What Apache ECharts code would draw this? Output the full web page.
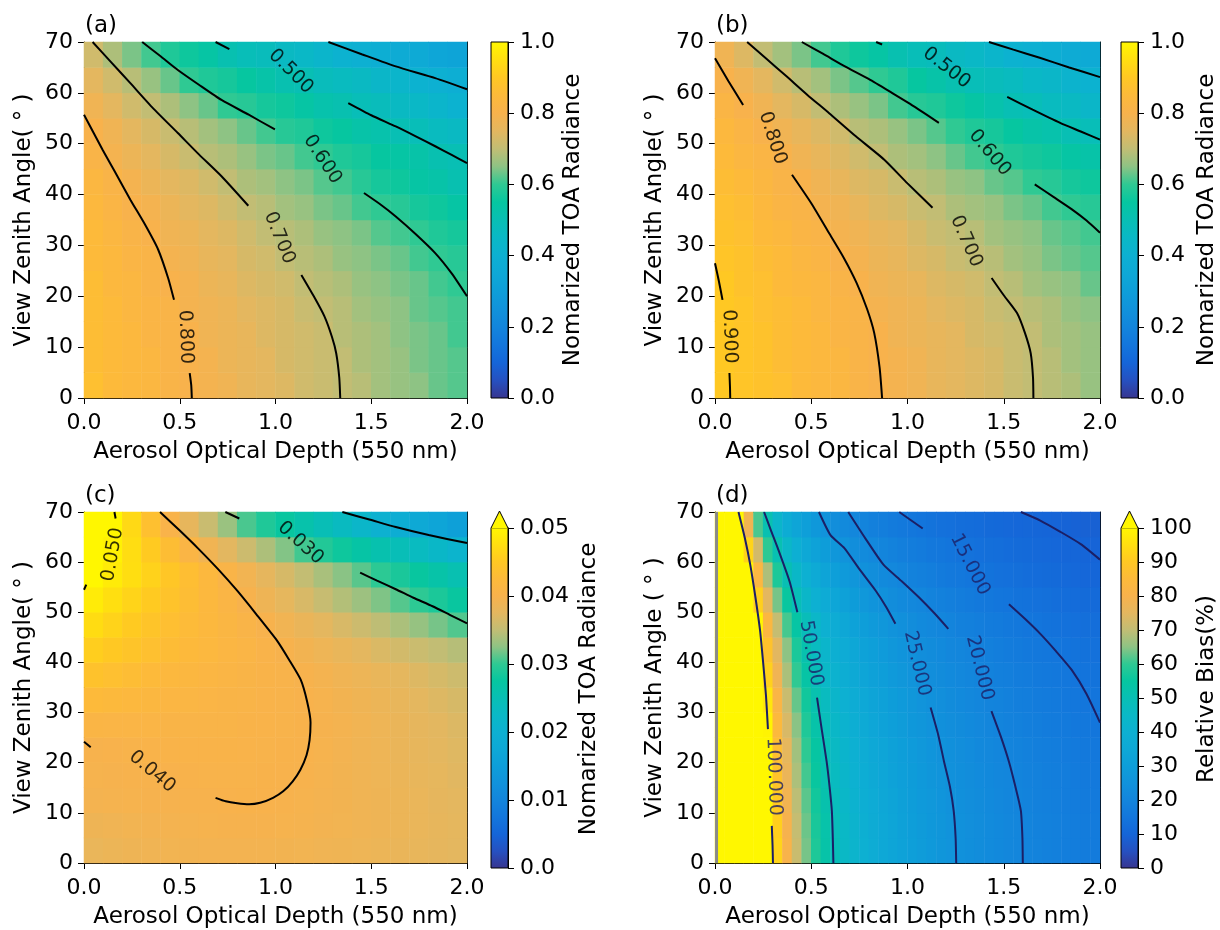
<!DOCTYPE html>
<html><head><meta charset="utf-8">
<script src="https://cdn.jsdelivr.net/npm/echarts@6/dist/echarts.min.js"></script>
<style>html,body{margin:0;padding:0;background:#fff}#c{width:1220px;height:930px}</style>
</head><body><div id="c"></div>
<script>
// ---------- grid cell centres (x: AOD, y: VZA) ----------
const aodCenters = [0.05,0.15,0.25,0.35,0.45,0.55,0.65,0.75,0.85,0.95,1.05,1.15,1.25,1.35,1.45,1.55,1.65,1.75,1.85,1.95];
const aodFine = [0.025,0.075,0.125,0.175,0.225,0.275,0.325,0.375,0.425,0.475,0.525,0.575,0.625,0.675,0.725,0.775,0.825,0.875,0.925,0.975,
                 1.025,1.075,1.125,1.175,1.225,1.275,1.325,1.375,1.425,1.475,1.525,1.575,1.625,1.675,1.725,1.775,1.825,1.875,1.925,1.975];
const vzaCenters = [2.5,7.5,12.5,17.5,22.5,27.5,32.5,37.5,42.5,47.5,52.5,57.5,62.5,67.5];

// ---------- (a) normalized TOA radiance, rows bottom->top ----------
const radA = [
 [0.87,0.85,0.84,0.83,0.81,0.80,0.79,0.78,0.76,0.75,0.74,0.72,0.71,0.70,0.69,0.67,0.66,0.65,0.63,0.62],
 [0.86,0.85,0.84,0.83,0.81,0.80,0.79,0.77,0.76,0.75,0.73,0.72,0.71,0.70,0.68,0.67,0.66,0.64,0.63,0.62],
 [0.86,0.85,0.84,0.82,0.81,0.80,0.78,0.77,0.76,0.74,0.73,0.72,0.71,0.69,0.68,0.67,0.65,0.64,0.63,0.61],
 [0.86,0.85,0.83,0.82,0.81,0.79,0.78,0.77,0.75,0.74,0.73,0.71,0.70,0.69,0.67,0.66,0.65,0.63,0.62,0.61],
 [0.86,0.84,0.83,0.81,0.80,0.79,0.77,0.76,0.74,0.73,0.72,0.70,0.69,0.68,0.66,0.65,0.64,0.63,0.61,0.60],
 [0.85,0.84,0.82,0.81,0.79,0.78,0.76,0.75,0.73,0.72,0.70,0.69,0.68,0.66,0.65,0.64,0.63,0.61,0.60,0.59],
 [0.85,0.83,0.81,0.80,0.78,0.77,0.75,0.74,0.72,0.70,0.69,0.68,0.66,0.65,0.64,0.62,0.61,0.60,0.58,0.57],
 [0.84,0.82,0.80,0.79,0.77,0.75,0.74,0.72,0.70,0.69,0.67,0.66,0.64,0.63,0.61,0.60,0.59,0.57,0.56,0.54],
 [0.83,0.81,0.79,0.77,0.75,0.74,0.72,0.70,0.68,0.67,0.65,0.64,0.62,0.61,0.59,0.57,0.56,0.54,0.53,0.51],
 [0.81,0.79,0.77,0.75,0.73,0.71,0.69,0.68,0.66,0.64,0.63,0.61,0.60,0.58,0.57,0.55,0.54,0.53,0.51,0.50],
 [0.80,0.78,0.75,0.73,0.71,0.69,0.67,0.65,0.63,0.61,0.59,0.58,0.56,0.55,0.53,0.52,0.50,0.49,0.47,0.46],
 [0.78,0.75,0.72,0.70,0.68,0.65,0.63,0.60,0.59,0.57,0.56,0.54,0.52,0.51,0.49,0.48,0.46,0.45,0.43,0.41],
 [0.75,0.72,0.69,0.66,0.63,0.60,0.58,0.57,0.55,0.53,0.51,0.50,0.48,0.47,0.46,0.44,0.43,0.41,0.40,0.39],
 [0.72,0.68,0.64,0.61,0.58,0.56,0.54,0.51,0.49,0.48,0.46,0.45,0.43,0.41,0.40,0.39,0.37,0.36,0.34,0.33]
];
// ---------- (b) ----------
const radB = [
 [0.90,0.89,0.88,0.87,0.85,0.84,0.83,0.81,0.80,0.79,0.78,0.76,0.75,0.74,0.73,0.71,0.70,0.69,0.68,0.66],
 [0.90,0.89,0.88,0.86,0.85,0.84,0.83,0.81,0.80,0.79,0.78,0.76,0.75,0.74,0.73,0.71,0.70,0.69,0.67,0.66],
 [0.90,0.89,0.88,0.86,0.85,0.84,0.82,0.81,0.80,0.78,0.77,0.76,0.75,0.73,0.72,0.71,0.70,0.68,0.67,0.66],
 [0.90,0.89,0.87,0.86,0.85,0.83,0.82,0.81,0.79,0.78,0.77,0.75,0.74,0.73,0.71,0.70,0.69,0.68,0.66,0.65],
 [0.90,0.88,0.87,0.85,0.84,0.83,0.81,0.80,0.78,0.77,0.76,0.74,0.73,0.72,0.70,0.69,0.67,0.66,0.65,0.63],
 [0.89,0.88,0.86,0.85,0.83,0.82,0.80,0.79,0.77,0.76,0.74,0.73,0.71,0.70,0.69,0.67,0.66,0.64,0.63,0.62],
 [0.88,0.87,0.85,0.84,0.82,0.81,0.79,0.78,0.76,0.75,0.73,0.71,0.70,0.69,0.67,0.66,0.65,0.63,0.62,0.61],
 [0.87,0.86,0.84,0.82,0.81,0.79,0.78,0.76,0.74,0.73,0.71,0.70,0.68,0.67,0.66,0.64,0.63,0.61,0.60,0.59],
 [0.86,0.85,0.83,0.81,0.80,0.78,0.76,0.74,0.73,0.71,0.69,0.68,0.66,0.65,0.63,0.62,0.60,0.59,0.57,0.56],
 [0.85,0.83,0.82,0.80,0.78,0.76,0.74,0.72,0.70,0.68,0.67,0.65,0.63,0.61,0.60,0.58,0.57,0.56,0.54,0.53],
 [0.84,0.82,0.80,0.78,0.76,0.74,0.72,0.69,0.68,0.66,0.64,0.62,0.60,0.58,0.57,0.55,0.53,0.52,0.50,0.49],
 [0.82,0.80,0.78,0.75,0.73,0.70,0.68,0.66,0.64,0.61,0.59,0.58,0.56,0.54,0.52,0.50,0.49,0.47,0.46,0.44],
 [0.80,0.78,0.75,0.72,0.69,0.67,0.64,0.62,0.60,0.58,0.55,0.53,0.51,0.49,0.48,0.47,0.45,0.44,0.42,0.41],
 [0.78,0.74,0.70,0.67,0.64,0.61,0.58,0.56,0.54,0.51,0.49,0.48,0.46,0.45,0.43,0.41,0.40,0.39,0.37,0.36]
];
// ---------- (c) ----------
const radC = [
 [0.0382,0.0385,0.0388,0.0390,0.0392,0.0393,0.0394,0.0394,0.0394,0.0394,0.0393,0.0392,0.0390,0.0389,0.0387,0.0385,0.0383,0.0380,0.0378,0.0375],
 [0.0388,0.0390,0.0392,0.0394,0.0395,0.0396,0.0397,0.0398,0.0398,0.0398,0.0397,0.0396,0.0394,0.0392,0.0390,0.0388,0.0385,0.0382,0.0379,0.0376],
 [0.0395,0.0396,0.0397,0.0398,0.0398,0.0399,0.0399,0.0400,0.0401,0.0400,0.0399,0.0397,0.0395,0.0393,0.0390,0.0388,0.0385,0.0382,0.0378,0.0375],
 [0.0397,0.0398,0.0399,0.0399,0.0400,0.0401,0.0402,0.0402,0.0402,0.0401,0.0400,0.0399,0.0396,0.0393,0.0390,0.0387,0.0384,0.0380,0.0377,0.0373],
 [0.0399,0.0400,0.0402,0.0403,0.0404,0.0404,0.0404,0.0404,0.0403,0.0402,0.0401,0.0400,0.0397,0.0394,0.0390,0.0387,0.0383,0.0379,0.0375,0.0371],
 [0.0410,0.0409,0.0408,0.0408,0.0407,0.0406,0.0405,0.0405,0.0404,0.0403,0.0402,0.0401,0.0398,0.0395,0.0391,0.0387,0.0383,0.0378,0.0374,0.0369],
 [0.0425,0.0422,0.0419,0.0416,0.0413,0.0411,0.0409,0.0407,0.0405,0.0403,0.0402,0.0400,0.0397,0.0393,0.0389,0.0385,0.0380,0.0375,0.0370,0.0365],
 [0.0440,0.0435,0.0430,0.0425,0.0420,0.0416,0.0413,0.0410,0.0407,0.0404,0.0402,0.0399,0.0395,0.0390,0.0386,0.0381,0.0376,0.0370,0.0364,0.0358],
 [0.0457,0.0450,0.0443,0.0436,0.0429,0.0423,0.0418,0.0413,0.0408,0.0403,0.0399,0.0393,0.0387,0.0381,0.0375,0.0368,0.0362,0.0356,0.0350,0.0344],
 [0.0472,0.0462,0.0452,0.0443,0.0434,0.0426,0.0419,0.0412,0.0405,0.0399,0.0391,0.0383,0.0375,0.0366,0.0357,0.0348,0.0339,0.0329,0.0319,0.0309],
 [0.0487,0.0475,0.0463,0.0452,0.0441,0.0430,0.0420,0.0410,0.0399,0.0388,0.0377,0.0366,0.0354,0.0343,0.0332,0.0321,0.0310,0.0299,0.0288,0.0277],
 [0.0502,0.0488,0.0474,0.0461,0.0447,0.0433,0.0419,0.0406,0.0392,0.0378,0.0365,0.0351,0.0338,0.0324,0.0311,0.0298,0.0287,0.0276,0.0265,0.0254],
 [0.0512,0.0494,0.0473,0.0452,0.0431,0.0410,0.0391,0.0374,0.0357,0.0340,0.0322,0.0305,0.0292,0.0280,0.0269,0.0257,0.0246,0.0234,0.0223,0.0211],
 [0.0524,0.0501,0.0468,0.0436,0.0403,0.0379,0.0355,0.0331,0.0307,0.0290,0.0276,0.0261,0.0247,0.0233,0.0219,0.0204,0.0191,0.0179,0.0167,0.0155]
];
// ---------- (d) relative bias (%), 40 columns ----------
const biasD = [
 [1186,396,238,171,133,109.1,92.6,80.4,71.1,63.8,57.9,53.0,48.9,45.3,42.3,39.7,37.4,35.3,33.5,31.9,30.4,29.0,27.8,26.7,25.7,24.7,23.8,23.0,22.3,21.6,20.9,20.3,19.7,19.2,18.7,18.2,17.7,17.3,16.9,16.5],
 [1170,391,235,169,131,107.9,91.5,79.6,70.4,63.2,57.3,52.5,48.4,44.9,42.0,39.4,37.1,35.1,33.3,31.7,30.2,28.9,27.7,26.6,25.5,24.6,23.7,22.9,22.2,21.5,20.8,20.2,19.7,19.1,18.6,18.2,17.7,17.3,16.9,16.5],
 [1154,386,232,166,129.6,106.4,90.3,78.5,69.4,62.3,56.5,51.7,47.7,44.3,41.4,38.8,36.6,34.6,32.8,31.2,29.7,28.4,27.3,26.2,25.2,24.2,23.4,22.6,21.9,21.2,20.5,19.9,19.4,18.8,18.3,17.9,17.4,17.0,16.6,16.2],
 [1126,376,227,162,126.7,104.0,88.3,76.7,67.9,61.0,55.3,50.7,46.8,43.4,40.6,38.0,35.9,33.9,32.2,30.6,29.2,27.9,26.8,25.7,24.7,23.8,23.0,22.2,21.5,20.9,20.2,19.6,19.1,18.6,18.1,17.6,17.2,16.8,16.4,16.0],
 [1110,371,223,160,124.7,102.3,86.8,75.5,66.8,59.9,54.4,49.8,45.9,42.6,39.8,37.3,35.2,33.3,31.5,30.0,28.6,27.4,26.2,25.2,24.2,23.3,22.5,21.7,21.0,20.4,19.8,19.2,18.6,18.1,17.7,17.2,16.8,16.4,16.0,15.6],
 [1078,360,217,155,121.0,99.3,84.3,73.2,64.8,58.1,52.7,48.3,44.5,41.3,38.6,36.2,34.1,32.2,30.6,29.1,27.7,26.5,25.4,24.4,23.5,22.6,21.8,21.1,20.4,19.7,19.1,18.6,18.1,17.6,17.1,16.7,16.2,15.8,15.5,15.1],
 [1046,350,210,151,117.5,96.4,81.8,71.1,62.9,56.4,51.2,46.9,43.3,40.2,37.5,35.2,33.1,31.3,29.7,28.3,27.0,25.8,24.7,23.7,22.8,22.0,21.2,20.5,19.8,19.2,18.6,18.1,17.6,17.1,16.6,16.2,15.8,15.4,15.1,14.7],
 [994,332,200,143,111.8,91.8,77.9,67.7,60.0,53.8,48.8,44.7,41.3,38.3,35.8,33.6,31.7,29.9,28.4,27.0,25.8,24.7,23.6,22.7,21.8,21.1,20.3,19.6,19.0,18.4,17.9,17.3,16.9,16.4,16.0,15.6,15.2,14.8,14.5,14.2],
 [954,319,192,137.5,107.3,88.0,74.7,65.0,57.5,51.6,46.8,42.9,39.6,36.7,34.3,32.2,30.3,28.7,27.2,25.9,24.7,23.6,22.7,21.8,20.9,20.2,19.5,18.8,18.2,17.6,17.1,16.6,16.1,15.7,15.3,14.9,14.5,14.2,13.9,13.6],
 [901,301,181,129.8,101.2,83.0,70.4,61.2,54.1,48.6,44.1,40.3,37.2,34.5,32.2,30.2,28.5,26.9,25.5,24.3,23.2,22.1,21.2,20.3,19.6,18.8,18.2,17.6,17.0,16.5,16.0,15.5,15.0,14.6,14.2,13.9,13.5,13.2,12.9,12.6],
 [813,272,164,117.3,91.5,75.1,63.8,55.4,49.1,44.0,40.0,36.6,33.8,31.4,29.3,27.5,25.9,24.5,23.2,22.1,21.1,20.2,19.3,18.6,17.9,17.2,16.6,16.1,15.5,15.1,14.6,14.2,13.8,13.4,13.1,12.7,12.4,12.1,11.8,11.6],
 [737,246,148,106.2,82.9,68.0,57.7,50.2,44.4,39.8,36.2,33.1,30.5,28.4,26.5,24.8,23.4,22.1,21.0,20.0,19.1,18.2,17.5,16.8,16.1,15.5,15.0,14.5,14.0,13.6,13.2,12.8,12.4,12.1,11.8,11.5,11.2,10.9,10.7,10.4],
 [638,214,129,92.6,72.4,59.5,50.6,44.1,39.1,35.2,32.0,29.4,27.1,25.3,23.6,22.2,21.0,19.9,18.9,18.0,17.2,16.5,15.8,15.2,14.7,14.2,13.7,13.3,12.9,12.5,12.1,11.8,11.5,11.2,10.9,10.7,10.4,10.2,10.0,9.8],
 [534,180,108.7,78.3,61.4,50.7,43.2,37.8,33.6,30.3,27.6,25.4,23.6,22.0,20.6,19.5,18.4,17.5,16.7,15.9,15.3,14.7,14.1,13.6,13.2,12.7,12.3,12.0,11.6,11.3,11.0,10.7,10.5,10.2,10.0,9.8,9.6,9.4,9.2,9.0]
];
// masked (grey) first column in (d)
const maskD = [[0.008,0],[0.008,70]];

// ---------- contour lines [AOD, VZA], split where labels sit ----------
const contA = [
 [[0,55.7],[0.097,48.8],[0.17,43.9],[0.242,39],[0.32,34],[0.387,29.2],[0.44,23.5],[0.47,19.3]],
 [[0.552,4.9],[0.56,2.5],[0.563,0]],
 [[0.045,70],[0.14,66.1],[0.242,61.9],[0.36,57],[0.49,52.1],[0.6,47.9],[0.718,43.6],[0.858,37.8]],
 [[1.135,24.2],[1.2,20],[1.255,16.1],[1.295,12],[1.317,8.8],[1.333,4],[1.338,0]],
 [[0.304,70],[0.4,67.2],[0.49,64.5],[0.6,61.6],[0.718,58.6],[0.86,55.7],[0.997,52.8]],
 [[1.462,40.3],[1.55,38],[1.628,35.7],[1.73,32.3],[1.834,28.5],[1.92,24.5],[2.0,20]],
 [[0.687,70],[0.759,68.6]],
 [[1.38,58],[1.5,55.6],[1.628,53.4],[1.73,51.5],[1.834,49.5],[1.92,47.8],[2.0,46.2]],
 [[1.276,70],[1.45,67.6],[1.628,65.2],[1.834,62.9],[2.0,60.7]]
];
const contB = [
 [[0,26.5],[0.02,23],[0.039,19.3]],
 [[0.075,4.9],[0.078,2],[0.079,0]],
 [[0,66.8],[0.07,62.3],[0.146,57.6]],
 [[0.4,43.9],[0.5,38.3],[0.593,32.4],[0.67,27.5],[0.736,22.6],[0.79,17.5],[0.827,12.8],[0.855,6],[0.868,0]],
 [[0.167,70],[0.27,66.6],[0.37,63.3],[0.48,59.6],[0.593,56],[0.73,51.5],[0.878,46.9],[1.0,42.2],[1.13,37.4]],
 [[1.437,23.6],[1.5,20.2],[1.569,16.7],[1.61,12.8],[1.64,8.8],[1.652,4],[1.654,0]],
 [[0.451,70],[0.56,67.7],[0.675,65.2],[0.8,62.7],[0.919,60],[1.04,57.2],[1.163,54.1]],
 [[1.661,42],[1.76,39.5],[1.854,37.1],[1.93,34.9],[2.0,32.5]],
 [[0.837,70],[0.868,69.5]],
 [[1.518,59.2],[1.65,56.7],[1.793,54.1],[1.9,52.4],[2.0,50.8]],
 [[1.423,70],[1.55,68.5],[1.687,66.9],[1.84,65],[2.0,63.1]]
];
const contC = [
 [[0.159,70],[0.165,68.7]],
 [[0,54.5],[0.012,55.5]],
 [[0.397,70],[0.5,66.3],[0.594,62.8],[0.7,58.6],[0.8,54.3],[0.9,49.6],[1.007,44.4],[1.07,40.6],[1.131,36.6],[1.165,32.2],[1.183,28],[1.178,24.5],[1.162,21.5],[1.13,18.6],[1.09,16.3],[1.04,14.3],[0.987,13],[0.92,12],[0.862,11.7],[0.8,11.9],[0.74,12.3],[0.687,13]],
 [[0,24.2],[0.035,23.1]],
 [[0.738,70],[0.811,68.7]],
 [[1.442,57.9],[1.53,56.3],[1.628,54.6],[1.72,52.9],[1.82,51.2],[1.91,49.5],[2.0,47.8]],
 [[1.349,70],[1.49,68.5],[1.628,67],[1.8,65.4],[2.0,63.8]]
];
const contD = [
 [[0.122,70],[0.155,64.8],[0.183,59.5],[0.21,53],[0.234,46.4],[0.25,40],[0.265,33.3],[0.275,26.7]],
 [[0.295,7.4],[0.299,3.5],[0.301,0]],
 [[0.255,70],[0.29,66.4],[0.326,62.8],[0.387,56.2],[0.428,50]],
 [[0.53,33],[0.555,26.5],[0.58,20.2],[0.595,15.3],[0.607,10.4],[0.612,5],[0.615,0]],
 [[0.54,70],[0.6,65.4],[0.672,62.8],[0.75,58.6],[0.835,54.3],[0.89,51],[0.937,47.7]],
 [[1.12,31],[1.16,25.5],[1.19,20.2],[1.22,15.3],[1.24,10.4],[1.25,5],[1.253,0]],
 [[0.692,70],[0.78,64.8],[0.875,59.5],[0.97,56.2],[1.059,53],[1.14,49.8],[1.212,46.7]],
 [[1.436,30.3],[1.485,25.2],[1.527,20.2],[1.56,15.3],[1.589,10.4],[1.597,5],[1.599,0]],
 [[0.957,70],[1.079,66.7]],
 [[1.527,51.6],[1.61,48.7],[1.69,45.7],[1.77,42.3],[1.853,38.5],[1.93,33.7],[2.0,28]],
 [[1.589,70],[1.69,68.3],[1.792,66.1],[1.9,63.6],[2.0,60.5]]
];
// contour labels: text and [AOD, VZA]
const labTextA = ['0.800','0.700','0.600','0.500'];
const labPosA = [[0.53,12],[1.02,31.5],[1.245,46.9],[1.08,64.2]];
const labTextB = ['0.900','0.800','0.700','0.600','0.500'];
const labPosB = [[0.075,12.1],[0.299,51.1],[1.305,30.8],[1.427,48.2],[1.203,64.9]];
const labTextC = ['0.050','0.040','0.030'];
const labPosC = [[0.15,61.5],[0.356,18.2],[1.131,63.8]];
const labTextD = ['100.000','50.000','25.000','20.000','15.000'];
const labPosD = [[0.305,17.2],[0.499,41.8],[1.049,39.8],[1.375,38.9],[1.324,59.5]];

// ---------- styling / layout ----------
const labRotA = [-88,-68,-57,-45];
const labRotB = [-88,-72,-66,-50,-38];
const labRotC = [80,-40,-42];
const labRotD = [-88,-80,-77,-76,-63];
const CMAP = ['#38358f','#2650c0','#1565d8','#1376dc','#1385dc','#1192db','#0e9ed9','#0ea8d6','#0db0d2','#0ab8c6',
              '#08bfb4','#06c6a0','#2fc993','#8ec384','#c2bd74','#e4b75f','#f8b24c','#fdba3a','#ffc823','#ffdf10','#fff700'];
const FONT = 'DejaVu Sans';
const TICK_FS = 22, TITLE_FS = 23;

const panels = [
 {tag:'(a)', data:radA, xc:aodCenters, cont:contA, labT:labTextA, labP:labPosA, labR:labRotA, vmin:0, vmax:1, lc:'#000',
  yName:'View Zenith Angle( ° )', cbName:'Nomarized TOA Radiance', g:{left:84,top:42,width:383,height:356},
  cb:{left:491,top:42,width:17,height:356}, cbInt:0.2, cbFmt:v=>v.toFixed(1), ext:false, cbGap:54},
 {tag:'(b)', data:radB, xc:aodCenters, cont:contB, labT:labTextB, labP:labPosB, labR:labRotB, vmin:0, vmax:1, lc:'#000',
  yName:'View Zenith Angle( ° )', cbName:'Nomarized TOA Radiance', g:{left:715,top:42,width:385,height:356},
  cb:{left:1121,top:42,width:17,height:356}, cbInt:0.2, cbFmt:v=>v.toFixed(1), ext:false, cbGap:58},
 {tag:'(c)', data:radC, xc:aodCenters, cont:contC, labT:labTextC, labP:labPosC, labR:labRotC, vmin:0, vmax:0.05, lc:'#000',
  yName:'View Zenith Angle( ° )', cbName:'Nomarized TOA Radiance', g:{left:84,top:512,width:383,height:356},
  cb:{left:491,top:528,width:17,height:340}, cbInt:0.01, cbFmt:v=>(v===0?'0.0':v.toFixed(2)), ext:true, cbGap:70},
 {tag:'(d)', data:biasD, xc:aodFine, cont:contD, labT:labTextD, labP:labPosD, labR:labRotD, vmin:0, vmax:100, lc:'#1b1f66',
  yName:'View Zenith Angle ( ° )', cbName:'Relative Bias(%)', g:{left:715,top:512,width:385,height:356},
  cb:{left:1121,top:528,width:17,height:340}, cbInt:10, cbFmt:v=>String(v), ext:true, cbGap:58}
];

const grids=[], xAxes=[], yAxes=[], series=[], visualMaps=[], titles=[], graphics=[];
const axisBlack = {show:true, onZero:false, lineStyle:{color:'#000', width:1}};
const tickBlack = {show:true, inside:false, length:6, lineStyle:{color:'#000', width:1}};

panels.forEach((p,k)=>{
  grids.push(Object.assign({containLabel:false}, p.g));
  xAxes.push({type:'category', gridIndex:k, position:'top', data:p.xc.map(String),
    axisLine:axisBlack, axisTick:{show:false}, axisLabel:{show:false}, splitLine:{show:false}});
  xAxes.push({type:'value', gridIndex:k, position:'bottom', min:0, max:2, interval:0.5,
    name:'Aerosol Optical Depth (550 nm)', nameLocation:'middle', nameGap:43,
    nameTextStyle:{fontFamily:FONT, fontSize:TITLE_FS, color:'#000'},
    axisLine:axisBlack, axisTick:tickBlack, splitLine:{show:false},
    axisLabel:{fontFamily:FONT, fontSize:TICK_FS, color:'#000', margin:14, formatter:v=>v.toFixed(1)}});
  yAxes.push({type:'category', gridIndex:k, position:'right', data:vzaCenters.map(String),
    axisLine:axisBlack, axisTick:{show:false}, axisLabel:{show:false}, splitLine:{show:false}});
  yAxes.push({type:'value', gridIndex:k, position:'left', min:0, max:70, interval:10,
    name:p.yName, nameLocation:'middle', nameGap:48, nameRotate:90,
    nameTextStyle:{fontFamily:FONT, fontSize:TITLE_FS, color:'#000'},
    axisLine:axisBlack, axisTick:tickBlack, splitLine:{show:false},
    axisLabel:{fontFamily:FONT, fontSize:TICK_FS, color:'#000', margin:11}});

  const hm=[];
  p.data.forEach((row,j)=>row.forEach((v,i)=>hm.push([i,j,v])));
  series.push({type:'heatmap', xAxisIndex:2*k, yAxisIndex:2*k, data:hm, z:1, silent:true,
    itemStyle:{borderWidth:0}, emphasis:{disabled:true}, progressive:0, animation:false});
  visualMaps.push({type:'continuous', show:false, seriesIndex:k, dimension:2, min:p.vmin, max:p.vmax,
    inRange:{color:CMAP}});

  titles.push({text:p.tag, left:p.g.left+1, top:p.g.top-27, padding:0,
    textStyle:{fontFamily:FONT, fontSize:23, fontWeight:'normal', color:'#000'}});
});

// grey masked column of (d)
series.push({type:'line', xAxisIndex:7, yAxisIndex:7, data:maskD, symbol:'none', silent:true, animation:false,
  lineStyle:{color:'#8a8a8a', width:3}, z:4});

panels.forEach((p,k)=>{
  p.cont.forEach(seg=>{
    series.push({type:'line', xAxisIndex:2*k+1, yAxisIndex:2*k+1, data:seg, symbol:'none', smooth:0.2,
      lineStyle:{color:p.lc, width:2}, z:5, silent:true, animation:false, clip:true});
  });
  series.push({type:'scatter', xAxisIndex:2*k+1, yAxisIndex:2*k+1, symbolSize:1, z:6, silent:true, animation:false,
    itemStyle:{color:'rgba(0,0,0,0)'},
    data:p.labP.map((pt,i)=>({value:pt, name:p.labT[i], label:{rotate:p.labR[i]}})),
    label:{show:true, position:'inside', formatter:'{b}', fontFamily:FONT, fontSize:19, color:p.lc}});
});

// colorbars
panels.forEach((p,k)=>{
  const stops = CMAP.map((c,i)=>({offset:i/(CMAP.length-1), color:c}));
  grids.push(Object.assign({containLabel:false, show:true, borderColor:'#000', borderWidth:1,
    backgroundColor:new echarts.graphic.LinearGradient(0,1,0,0,stops)}, p.cb));
  xAxes.push({type:'value', gridIndex:4+k, show:false, min:0, max:1});
  yAxes.push({type:'value', gridIndex:4+k, position:'right', min:p.vmin, max:p.vmax, interval:p.cbInt,
    name:p.cbName, nameLocation:'middle', nameRotate:90, nameGap:p.cbGap,
    nameTextStyle:{fontFamily:FONT, fontSize:TITLE_FS, color:'#000', padding:p.ext?[0,0,0,18]:0},
    axisLine:axisBlack, axisTick:tickBlack, splitLine:{show:false},
    axisLabel:{fontFamily:FONT, fontSize:TICK_FS, color:'#000', margin:12, formatter:p.cbFmt}});
  if (p.ext) {
    const L=p.cb.left, R=p.cb.left+p.cb.width, T=p.cb.top, apex=T-17;
    graphics.push({type:'polygon', z:100, silent:true,
      shape:{points:[[L,T+0.5],[(L+R)/2,apex],[R,T+0.5]]}, style:{fill:CMAP[CMAP.length-1], stroke:null}});
    graphics.push({type:'polyline', z:101, silent:true,
      shape:{points:[[L,T],[(L+R)/2,apex],[R,T]]}, style:{stroke:'#000', lineWidth:1, fill:null}});
  }
});

const chart = echarts.init(document.getElementById('c'), null, {renderer:'canvas', width:1220, height:930});
chart.setOption({
  backgroundColor:'#fff', animation:false,
  title:titles, grid:grids, xAxis:xAxes, yAxis:yAxes, visualMap:visualMaps, series:series, graphic:graphics
});
</script>
</body></html>
